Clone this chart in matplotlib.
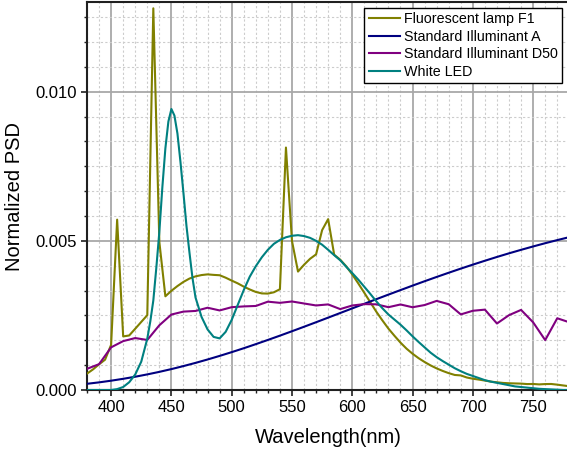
#!/usr/bin/env python3
# Normalized spectral power distributions of four light sources.
import numpy as np
import matplotlib

matplotlib.use("Agg")
import matplotlib.pyplot as plt
from matplotlib.ticker import MultipleLocator, FormatStrFormatter

plt.rcParams["font.family"] = ["Liberation Sans", "DejaVu Sans"]

# wavelength grids (nm)
wl_10 = np.arange(380, 781, 10)
wl_5 = np.arange(380, 781, 5)

# values below are in units of 1e-3 (normalized PSD)
illum_a = [0.208, 0.256, 0.312, 0.375, 0.445, 0.523, 0.608, 0.701, 0.802, 0.909,
           1.023, 1.143, 1.269, 1.400, 1.537, 1.678, 1.822, 1.970, 2.120, 2.272,
           2.426, 2.581, 2.736, 2.891, 3.045, 3.198, 3.349, 3.499, 3.646, 3.790,
           3.931, 4.069, 4.203, 4.333, 4.460, 4.582, 4.699, 4.812, 4.921, 5.025,
           5.124]

illum_d50 = [0.710, 0.866, 1.430, 1.639, 1.741, 1.677, 2.170, 2.530, 2.628, 2.650,
             2.758, 2.667, 2.776, 2.802, 2.817, 2.961, 2.922, 2.967, 2.900, 2.834,
             2.869, 2.712, 2.833, 2.879, 2.872, 2.776, 2.867, 2.774, 2.848, 2.987,
             2.875, 2.534, 2.656, 2.694, 2.229, 2.509, 2.685, 2.269, 1.673, 2.405,
             2.270]

fluor_f1 = [0.548, 0.691, 0.861, 1.017, 1.515, 5.711, 1.796, 1.828, 2.054, 2.282,
            2.508, 12.795, 4.963, 3.141, 3.326, 3.484, 3.624, 3.736, 3.809, 3.853,
            3.876, 3.859, 3.847, 3.765, 3.668, 3.575, 3.466, 3.370, 3.287, 3.238,
            3.232, 3.276, 3.378, 8.128, 4.996, 3.970, 4.199, 4.398, 4.547, 5.359,
            5.728, 4.536, 4.369, 4.146, 3.873, 3.572, 3.258, 2.939, 2.622, 2.332,
            2.057, 1.817, 1.588, 1.386, 1.216, 1.067, 0.938, 0.823, 0.724, 0.639,
            0.565, 0.504, 0.489, 0.419, 0.378, 0.349, 0.316, 0.281, 0.258, 0.237,
            0.226, 0.220, 0.214, 0.199, 0.202, 0.188, 0.199, 0.202, 0.179, 0.152,
            0.126]

# white LED read on a finer grid around the blue peak
led_wl = [380, 390, 400, 405, 410, 415, 420, 425, 430, 432.5,
          435, 437.5, 440, 442.5, 445, 447.5, 450, 452.5, 455, 457.5,
          460, 462.5, 465, 467.5, 470, 475, 480, 485, 490, 495,
          500, 505, 510, 515, 520, 525, 530, 535, 540, 545,
          550, 555, 560, 565, 570, 575, 580, 585, 590, 595,
          600, 605, 610, 615, 620, 625, 630, 635, 640, 645,
          650, 655, 660, 665, 670, 675, 680, 685, 690, 695,
          700, 705, 710, 715, 720, 725, 730, 735, 740, 745,
          750, 755, 760, 765, 770, 775, 780]
white_led = [0.0, 0.0, 0.0, 0.03, 0.10, 0.26, 0.52, 0.95, 1.72, 2.3,
             3.0, 4.1, 5.3, 6.8, 8.1, 9.0, 9.42, 9.2, 8.6, 7.65,
             6.6, 5.5, 4.6, 3.75, 3.1, 2.45, 2.03, 1.78, 1.73, 1.95,
             2.35, 2.85, 3.35, 3.8, 4.15, 4.45, 4.7, 4.9, 5.03, 5.12,
             5.17, 5.19, 5.16, 5.1, 5.0, 4.87, 4.7, 4.52, 4.35, 4.13,
             3.92, 3.7, 3.46, 3.22, 2.97, 2.74, 2.53, 2.36, 2.19, 2.0,
             1.8, 1.61, 1.43, 1.25, 1.1, 0.97, 0.85, 0.73, 0.63, 0.54,
             0.47, 0.40, 0.33, 0.28, 0.24, 0.20, 0.16, 0.12, 0.10, 0.08,
             0.06, 0.04, 0.03, 0.02, 0.01, 0.0, 0.0]

series = [
    ("Fluorescent lamp F1", wl_5, fluor_f1, "#808000"),
    ("Standard Illuminant A", wl_10, illum_a, "#000080"),
    ("Standard Illuminant D50", wl_10, illum_d50, "#800080"),
    ("White LED", led_wl, white_led, "#008080"),
]

fig = plt.figure(figsize=(5.67, 4.57), dpi=100)
ax = fig.add_axes([87 / 567, 67 / 457, 482.3 / 567, 387.8 / 457])

for name, x, y, c in series:
    ax.plot(x, np.array(y) * 1e-3, color=c, lw=1.5, label=name, zorder=3)

ax.set_xlim(380, 780)
ax.set_ylim(0, 0.013)
ax.xaxis.set_major_locator(MultipleLocator(50))
ax.xaxis.set_minor_locator(MultipleLocator(10))
ax.yaxis.set_major_locator(MultipleLocator(0.005))
ax.yaxis.set_minor_locator(MultipleLocator(0.005 / 6))
ax.yaxis.set_major_formatter(FormatStrFormatter("%.3f"))

ax.grid(which="major", color="#a8a8a8", lw=1.3, ls="-", zorder=1)
ax.grid(which="minor", color="#cccccc", lw=0.8, ls=(0, (2, 2)), zorder=1)
ax.set_axisbelow(True)

for s in ["left", "bottom", "top"]:
    ax.spines[s].set_linewidth(1.5)
    ax.spines[s].set_color("#202020")
ax.spines["right"].set_visible(False)

ax.tick_params(which="major", direction="out", length=4.5, width=1.2,
               labelsize=12, pad=3, colors="#202020", labelcolor="black")
ax.tick_params(which="minor", direction="out", length=2.5, width=1.0,
               colors="#202020")
ax.tick_params(top=False, right=False)

ax.set_xlabel("Wavelength(nm)", fontsize=14.5, labelpad=9)
ax.set_ylabel("Normalized PSD", fontsize=14.5, labelpad=8)

leg = ax.legend(loc="upper right", bbox_to_anchor=(562 / 567, 1 - 8 / 457),
                bbox_transform=fig.transFigure, borderaxespad=0,
                fontsize=10.3, frameon=True, fancybox=False, framealpha=1,
                edgecolor="black", handlelength=2.2, handletextpad=0.25,
                labelspacing=0.25, borderpad=0.3)
leg.get_frame().set_linewidth(1.0)

fig.savefig("out.png", dpi=100)
